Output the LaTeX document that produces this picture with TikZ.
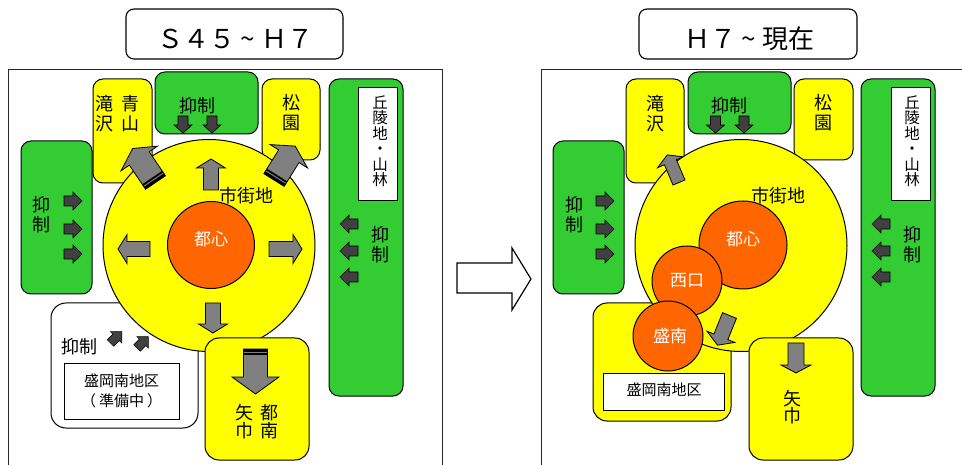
\documentclass[tikz,border=0pt]{standalone}
\usepackage{fontspec}
\setmainfont{Noto Sans CJK JP}
\usetikzlibrary{fit}
\definecolor{myyellow}{HTML}{FFFF00}
\definecolor{mygreen}{HTML}{33CC33}
\definecolor{myorange}{HTML}{FF6600}
\definecolor{mygray}{HTML}{808080}
\definecolor{mydark}{HTML}{404040}
% #1 style, #2 tail x, #3 tail y, #4 angle, #5 length, #6 half shaft, #7 half head, #8 head length
\newcommand{\blkarrow}[8]{%
  \begin{scope}[shift={(#2,#3)},rotate=#4]
    \path[#1] (0,-#6) -- ({#5-#8},-#6) -- ({#5-#8},-#7) -- (#5,0) -- ({#5-#8},#7) -- ({#5-#8},#6) -- (0,#6) -- cycle;
  \end{scope}}
% #1 tail x, #2 tail y, #3 angle, #4 half shaft
\newcommand{\tailstripes}[4]{%
  \begin{scope}[shift={(#1,#2)},rotate=#3]
    \fill[black] (0,-#4) rectangle (2.8,#4);
    \fill[black] (4.1,-#4) rectangle (5.9,#4);
  \end{scope}}
\newcommand{\smalltilde}{\makebox[1em]{\symbol{"7E}}}
\tikzset{
  frame/.style={draw=black!85, line width=0.9pt},
  titlebox/.style={draw, line width=1.1pt, rounded corners=8pt, fill=white, inner sep=0pt},
  ybox/.style={draw, fill=myyellow, rounded corners=10pt, inner sep=0pt, line width=1pt},
  gbox/.style={draw, fill=mygreen, rounded corners=10pt, inner sep=0pt, line width=1pt},
  wbox/.style={draw, fill=white, inner sep=0pt, line width=1pt},
  city/.style={circle, draw, fill=myyellow, minimum size=212pt, inner sep=0pt, line width=1pt},
  core/.style={circle, draw, fill=myorange, inner sep=0pt, line width=1pt},
  garrow/.style={fill=mygray, draw=black, line width=0.8pt},
  darrow/.style={fill=mydark, draw=black, line width=0.6pt},
  jt/.style={inner sep=0pt, align=center, font=\fontsize{18}{20}\selectfont},
  jts/.style={inner sep=0pt, align=center, font=\fontsize{15}{20}\selectfont},
  jtv/.style={inner sep=0pt, align=center, font=\fontsize{15.5}{15.5}\selectfont},
  wt/.style={inner sep=0pt, align=center, text=white, font=\fontsize{17}{19}\selectfont},
  ttl/.style={inner sep=0pt, font=\fontsize{26}{28}\selectfont},
}
\begin{document}
\begin{tikzpicture}[x=1pt,y=-1pt]
\useasboundingbox (0,0) rectangle (962,465);
\clip (0,0) rectangle (962,465);

% ---------------- titles ----------------
\node[titlebox, fit={(126,9) (343,59)}] (titleL) {};
\node[ttl] (titleLt) at (235,39) {Ｓ４５\smalltilde Ｈ７};
\node[titlebox, fit={(639,9) (857,59)}] (titleR) {};
\node[ttl] (titleRt) at (749,39) {Ｈ７\smalltilde 現在};

% ---------------- left panel ----------------
\draw[frame] (8,69) rectangle (442,490);
\node[gbox, fit={(21,141) (92,294)}] (gleftL) {};
\node[ybox, fit={(93,79) (152,183)}] (takiL) {};
\node[gbox, fit={(155,72) (258,134)}] (gtopL) {};
\node[ybox, fit={(262,79) (320,160)}] (matsuL) {};
\node[gbox, fit={(329,79) (403,396)}] (grightL) {};
\node[wbox, fit={(358,88) (397,201)}] (hillL) {};
\node[wbox, rounded corners=15pt, fit={(51,303) (198,428)}] (supL) {};
\node[wbox, fit={(64,363) (179,419)}] (moriL) {};
\node[city] (cityL) at (209,245.5) {};
\node[core, minimum size=87pt] (toshinL) at (211,245) {};
\node[ybox, rounded corners=14pt, fit={(205,338) (309,460)}] (yahabaL) {};

% grey arrows left
\blkarrow{garrow}{211}{190}{90}{31}{7.5}{14.5}{9}
\blkarrow{garrow}{150}{249}{180}{32}{7.5}{14.5}{9}
\blkarrow{garrow}{269}{249}{0}{33}{7.5}{14.5}{9}
\blkarrow{garrow}{213}{303}{270}{30}{7.5}{14.5}{9}
\blkarrow{garrow}{155.5}{182.5}{124}{41}{12}{22}{12}
\tailstripes{155.5}{182.5}{124}{12}
\blkarrow{garrow}{274}{180}{58}{40}{12}{22}{12}
\tailstripes{274}{180}{58}{12}
\blkarrow{garrow}{255.5}{349}{270}{45}{12}{23.5}{17}
\tailstripes{255.5}{349}{270}{12}

% dark arrows left
\blkarrow{darrow}{183}{116}{270}{17}{5}{9}{8}
\blkarrow{darrow}{212}{116}{270}{17}{5}{9}{8}
\blkarrow{darrow}{64}{201}{0}{18}{5}{9}{9}
\blkarrow{darrow}{64}{229}{0}{18}{5}{9}{9}
\blkarrow{darrow}{64}{254}{0}{18}{5}{9}{9}
\blkarrow{darrow}{358}{224}{180}{18}{5}{9}{9}
\blkarrow{darrow}{358}{251}{180}{18}{5}{9}{9}
\blkarrow{darrow}{358}{277}{180}{18}{5}{9}{9}
\blkarrow{darrow}{110.5}{343}{45}{16}{4.5}{8}{8}
\blkarrow{darrow}{137}{348}{45}{16}{4.5}{8}{8}

% texts left
\node[jt] (tAoyamaL) at (130,114) {青\\山};
\node[jt] (tTakiL) at (104.5,114) {滝\\沢};
\node[jt] (tSupTopL) at (197,106) {抑制};
\node[jt] (tMatsuL) at (291,113) {松\\園};
\node[jtv] (tHillL) at (380,141) {丘\\陵\\地\\・\\山\\林};
\node[jt] (tSupLeftL) at (41,215) {抑\\制};
\node[jt] (tSupRightL) at (380,245) {抑\\制};
\node[jt] (tCityL) at (246,196) {市街地};
\node[wt] (tToshinL) at (211,239) {都心};
\node[jt] (tSupSL) at (79,347) {抑制};
\node[jts] (tMoriL) at (121.5,391) {盛岡南地区\\（\hspace{3pt}準備中\hspace{3pt}）};
\node[jt, font=\fontsize{18}{18}\selectfont] (tTonanL) at (269,421.5) {都\\南};
\node[jt, font=\fontsize{18}{18}\selectfont] (tYahabaL) at (244,421.5) {矢\\巾};

% ---------------- transition arrow ----------------
\draw[line width=1.2pt, fill=white] (457,263) -- (512,263) -- (512,248) -- (531,279) -- (512,310) -- (512,293) -- (457,293) -- cycle;

% ---------------- right panel ----------------
\draw[frame] (541,69) rectangle (990,490);
\node[gbox, fit={(553,141) (624,294)}] (gleftR) {};
\node[ybox, fit={(626,79) (684,183)}] (takiR) {};
\node[gbox, fit={(688,72) (791,134)}] (gtopR) {};
\node[ybox, fit={(794,79) (853,160)}] (matsuR) {};
\node[gbox, fit={(861,79) (935,396)}] (grightR) {};
\node[wbox, fit={(891,88) (930,201)}] (hillR) {};
\node[ybox, rounded corners=14pt, fit={(593,303) (731,421)}] (moriboxR) {};
\node[wbox, fit={(603,373) (724,410)}] (moriR) {};
\node[city] (cityR) at (741,245.5) {};
\node[core, minimum size=88pt] (toshinR) at (743,245) {};
\node[core, minimum size=70pt] (nishiR) at (687,281) {};
\node[core, minimum size=70pt] (moriminamiR) at (668,336) {};
\node[ybox, rounded corners=14pt, fit={(749,338) (853,460)}] (yahabaR) {};

% grey arrows right
\blkarrow{garrow}{679}{182.5}{113}{30}{6.5}{14}{8}
\blkarrow{garrow}{729.5}{315.5}{248}{32}{7.5}{15}{9}
\blkarrow{garrow}{796}{343}{270}{30}{8}{15}{8}

% dark arrows right
\blkarrow{darrow}{715.5}{116}{270}{17}{5}{9}{8}
\blkarrow{darrow}{744}{116}{270}{17}{5}{9}{8}
\blkarrow{darrow}{596}{201}{0}{18}{5}{9}{9}
\blkarrow{darrow}{596}{229}{0}{18}{5}{9}{9}
\blkarrow{darrow}{596}{254}{0}{18}{5}{9}{9}
\blkarrow{darrow}{890}{224}{180}{18}{5}{9}{9}
\blkarrow{darrow}{890}{251}{180}{18}{5}{9}{9}
\blkarrow{darrow}{890}{277}{180}{18}{5}{9}{9}

% texts right
\node[jt] (tTakiR) at (655,114) {滝\\沢};
\node[jt] (tSupTopR) at (729,106) {抑制};
\node[jt] (tMatsuR) at (823,113) {松\\園};
\node[jtv] (tHillR) at (912,141) {丘\\陵\\地\\・\\山\\林};
\node[jt] (tSupLeftR) at (574,215) {抑\\制};
\node[jt] (tSupRightR) at (912,245) {抑\\制};
\node[jt] (tCityR) at (778,196) {市街地};
\node[wt] (tToshinR) at (743,239) {都心};
\node[wt] (tNishiR) at (687,281) {西口};
\node[wt] (tMoriminamiR) at (670,336) {盛南};
\node[jts] (tMoriR) at (664,390) {盛岡南地区};
\node[jt, font=\fontsize{18}{17}\selectfont] (tYahabaR) at (792,407) {矢\\巾};
\end{tikzpicture}
\end{document}
